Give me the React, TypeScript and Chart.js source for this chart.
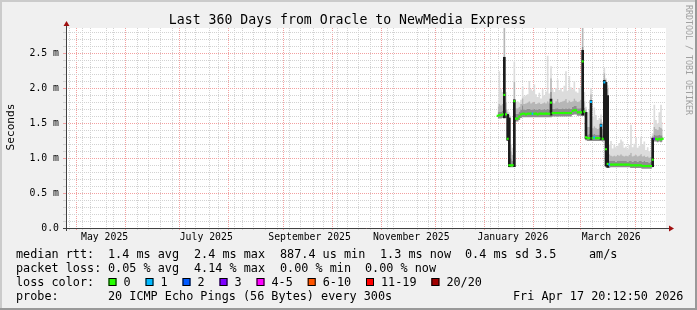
import React, { useEffect, useRef } from 'react';
import { Chart, registerables } from 'chart.js';

Chart.register(...registerables);

// ---------- data ----------
const TITLE = 'Last 360 Days from Oracle to NewMedia Express';
const Y_TITLE = 'Seconds';
const WATERMARK = 'RRDTOOL / TOBI OETIKER';
const START = Date.UTC(2025, 3, 22, 20, 12, 50); // left edge of the graph
const SPAN_DAYS = 360;
const Y_MAX = 2.87; // ms
const FIRST_DAY = 259; // first day (after START) that holds data; one value per day

const MEDIAN = [
  1.61, 1.62, 1.62, 1.63, 1.91, 1.63, 1.28, 0.90, 0.90, 0.90,
  1.82, 1.57, 1.57, 1.60, 1.63, 1.64, 1.64, 1.63, 1.64, 1.64,
  1.64, 1.64, 1.64, 1.64, 1.63, 1.64, 1.64, 1.64, 1.64, 1.64,
  1.64, 1.64, 1.80, 1.65, 1.65, 1.65, 1.65, 1.65, 1.65, 1.65,
  1.65, 1.65, 1.65, 1.65, 1.65, 1.68, 1.69, 1.69, 1.66, 1.66,
  1.66, 2.39, 1.67, 1.30, 1.29, 1.29, 1.81, 1.29, 1.30, 1.29,
  1.29, 1.29, 1.47, 1.28, 2.09, 1.13, 0.92, 0.91, 0.91, 0.91,
  0.91, 0.91, 0.91, 0.91, 0.91, 0.91, 0.91, 0.91, 0.91, 0.91,
  0.90, 0.90, 0.90, 0.90, 0.90, 0.90, 0.90, 0.89, 0.89, 0.89,
  0.89, 0.89, 0.89, 0.98, 1.28, 1.28, 1.27, 1.28, 1.27, 1.28,
];
// loss category index per day (0 = no loss, 1 = one lost ping, 3 = three lost)
const LOSS = [
  0, 0, 0, 0, 0, 0, 0, 0, 0, 0,
  0, 0, 0, 0, 0, 0, 0, 0, 0, 0,
  0, 1, 0, 0, 0, 0, 0, 0, 0, 0,
  0, 0, 0, 0, 0, 0, 0, 0, 0, 0,
  0, 0, 0, 0, 0, 0, 0, 0, 0, 0,
  0, 0, 0, 0, 0, 0, 1, 0, 1, 0,
  0, 0, 1, 0, 1, 0, 0, 1, 0, 0,
  0, 0, 0, 0, 0, 0, 0, 0, 0, 0,
  0, 0, 0, 0, 0, 0, 0, 0, 0, 0,
  0, 0, 0, 0, 3, 0, 0, 0, 0, 0,
];
const SMOKE_LO = [
  1.57, 1.57, 1.57, 1.58, 1.58, 1.58, 1.25, 0.87, 0.87, 0.87,
  0.88, 1.53, 1.53, 1.55, 1.58, 1.59, 1.59, 1.59, 1.59, 1.59,
  1.59, 1.59, 1.59, 1.59, 1.59, 1.59, 1.59, 1.59, 1.59, 1.59,
  1.59, 1.59, 1.59, 1.60, 1.60, 1.60, 1.60, 1.60, 1.60, 1.60,
  1.60, 1.60, 1.60, 1.60, 1.60, 1.62, 1.63, 1.63, 1.61, 1.61,
  1.61, 1.61, 1.61, 1.26, 1.25, 1.25, 1.25, 1.25, 1.25, 1.25,
  1.25, 1.25, 1.25, 1.24, 1.25, 0.87, 0.86, 0.86, 0.87, 0.87,
  0.87, 0.87, 0.87, 0.87, 0.87, 0.87, 0.87, 0.87, 0.87, 0.87,
  0.86, 0.86, 0.86, 0.86, 0.86, 0.86, 0.86, 0.85, 0.85, 0.85,
  0.85, 0.85, 0.85, 0.87, 1.24, 1.24, 1.23, 1.24, 1.23, 1.24,
];
const SMOKE_DARK = [
  1.66, 1.67, 1.67, 1.68, 2.20, 1.70, 1.62, 1.58, 1.00, 0.96,
  1.84, 1.64, 1.64, 1.67, 1.70, 1.76, 1.70, 1.70, 1.71, 1.71,
  1.70, 1.70, 1.71, 1.70, 1.70, 1.71, 1.70, 1.70, 1.71, 1.70,
  1.71, 1.70, 1.95, 1.71, 1.71, 1.72, 1.72, 1.71, 1.71, 1.72,
  1.71, 1.72, 1.71, 1.72, 1.71, 1.74, 1.75, 1.75, 1.72, 1.72,
  1.72, 2.60, 1.73, 1.66, 1.34, 1.35, 1.83, 1.34, 1.35, 1.34,
  1.34, 1.34, 1.49, 1.33, 2.12, 2.09, 1.90, 0.97, 0.96, 0.96,
  0.96, 0.95, 0.96, 0.96, 0.97, 0.96, 0.96, 0.96, 0.95, 0.96,
  0.97, 0.95, 0.96, 0.96, 0.95, 0.96, 0.96, 0.95, 0.96, 0.95,
  0.95, 0.94, 0.95, 1.29, 1.34, 1.33, 1.33, 1.34, 1.33, 1.33,
];
const SMOKE_MID = [
  1.74, 1.78, 1.76, 1.78, 2.90, 1.80, 1.66, 1.62, 1.10, 1.05,
  2.10, 1.72, 1.72, 1.74, 1.78, 1.86, 1.78, 1.79, 1.80, 1.82,
  1.79, 1.80, 1.81, 1.78, 1.79, 1.80, 1.78, 1.79, 1.80, 1.79,
  1.82, 1.79, 2.15, 1.80, 1.79, 1.82, 1.85, 1.80, 1.81, 1.82,
  1.83, 1.85, 1.80, 1.83, 1.81, 1.82, 1.86, 1.83, 1.81, 1.82,
  1.84, 2.90, 1.82, 1.70, 1.45, 1.45, 1.92, 1.43, 1.46, 1.44,
  1.42, 1.44, 1.56, 1.42, 2.22, 2.12, 2.00, 1.06, 1.04, 1.03,
  1.04, 1.03, 1.05, 1.04, 1.06, 1.04, 1.03, 1.04, 1.03, 1.05,
  1.08, 1.03, 1.04, 1.05, 1.03, 1.04, 1.06, 1.03, 1.04, 1.02,
  1.03, 1.01, 1.02, 1.32, 1.45, 1.42, 1.41, 1.45, 1.44, 1.42,
];
const SMOKE_HI = [
  1.84, 2.25, 1.99, 1.95, 2.90, 1.95, 1.70, 1.66, 1.20, 1.15,
  2.39, 1.80, 1.82, 1.80, 1.84, 2.03, 1.89, 1.90, 1.92, 2.11,
  1.99, 1.97, 2.06, 1.92, 1.88, 1.94, 1.86, 1.99, 1.90, 1.96,
  2.47, 1.93, 2.32, 1.99, 1.95, 2.01, 2.13, 1.98, 2.01, 1.96,
  2.04, 2.25, 1.97, 2.18, 2.02, 1.99, 2.11, 1.96, 1.94, 2.01,
  2.03, 2.90, 1.95, 1.74, 1.66, 1.70, 2.01, 1.60, 1.73, 1.62,
  1.55, 1.58, 1.63, 1.52, 2.30, 2.15, 2.05, 1.20, 1.25, 1.14,
  1.20, 1.16, 1.18, 1.22, 1.27, 1.24, 1.15, 1.17, 1.13, 1.19,
  1.48, 1.16, 1.21, 1.30, 1.15, 1.18, 1.31, 1.20, 1.24, 1.12,
  1.16, 1.10, 1.09, 1.36, 1.77, 1.55, 1.50, 1.66, 1.77, 1.52,
];
// dense smoke where the rtt jumped inside one step
const JUMP_DAYS = [263, 265, 266, 269, 291, 310, 312, 315, 321, 323, 324, 325, 352];
const JUMP_LO = [1.58, 1.26, 0.88, 0.88, 1.62, 1.62, 1.28, 1.27, 1.27, 1.27, 0.89, 0.87, 0.88];
const JUMP_HI = [2.45, 1.63, 1.58, 1.84, 1.85, 2.55, 1.66, 1.83, 1.49, 2.12, 2.09, 1.90, 1.29];

const X_LABEL_MONTHS = [[2025, 4], [2025, 6], [2025, 8], [2025, 10], [2026, 0], [2026, 2]];
const X_LABELS = ['May 2025', 'July 2025', 'September 2025', 'November 2025', 'January 2026', 'March 2026'];

const RTT_STATS = ['1.4 ms avg', '2.4 ms max', '887.4 us min', '1.3 ms now', '0.4 ms sd', '3.5', 'am/s'];
const LOSS_STATS = ['0.05 % avg', '4.14 % max', '0.00 % min', '0.00 % now'];
const LOSS_LABELS = ['0', '1', '2', '3', '4-5', '6-10', '11-19', '20/20'];
const LOSS_COLORS = ['#26ff00', '#00b8ff', '#0059ff', '#7e00ff', '#ff00ff', '#ff5500', '#ff0000', '#a10000'];
const PROBE = '20 ICMP Echo Pings (56 Bytes) every 300s';
const STAMP = 'Fri Apr 17 20:12:50 2026';

// ---------- styling ----------
const W = 697;
const H = 310;
const MONO = '"DejaVu Sans Mono", monospace';
const GRID_MINOR = '#d2d2d2';
const GRID_MAJOR = '#f2a0a0';
const DAY = 86400000;

const dayOf = (y: number, m: number, d: number) => (Date.UTC(y, m, d) - START) / DAY;

// x grid: Sundays (minor), month starts (major), mid-month label ticks
const MONTH_STARTS: number[] = [];
for (let k = 0; k < 13; k++) {
  const v = dayOf(2025, 4 + k, 1);
  if (v <= SPAN_DAYS) MONTH_STARTS.push(v);
}
const WEEKS: number[] = [];
for (let v = dayOf(2025, 3, 27); v <= SPAN_DAYS; v += 7) {
  if (!MONTH_STARTS.some((m) => Math.abs(m - v) < 0.01)) WEEKS.push(v);
}
const LABEL_POS = X_LABEL_MONTHS.map(([y, m]) => dayOf(y, m, 1) + 15);
const X_KIND = new Map<number, string>();
WEEKS.forEach((v) => X_KIND.set(v, 'minor'));
MONTH_STARTS.forEach((v) => X_KIND.set(v, 'major'));
const X_LABEL_MAP = new Map<number, string>();
LABEL_POS.forEach((v, i) => {
  X_KIND.set(v, 'label');
  X_LABEL_MAP.set(v, X_LABELS[i]);
});
const X_TICKS = Array.from(X_KIND.keys()).sort((a, b) => a - b);

const Y_TICKS: number[] = [];
for (let i = 0; i <= 28; i++) Y_TICKS.push(i / 10);

const xGridColor = (c: any) => {
  const k = c.tick ? X_KIND.get(c.tick.value) : undefined;
  if (k === 'major') return GRID_MAJOR;
  if (k === 'minor') return GRID_MINOR;
  return 'rgba(0,0,0,0)';
};
const yGridColor = (c: any) => {
  if (!c.tick) return GRID_MINOR;
  const i = Math.round(c.tick.value * 10);
  return i % 5 === 0 ? GRID_MAJOR : GRID_MINOR;
};

const pts = (arr: number[]) => arr.map((v, i) => ({ x: FIRST_DAY + i, y: v }));

const decor = {
  id: 'decor',
  beforeDraw(chart: any) {
    const { ctx, chartArea: a } = chart;
    ctx.save();
    ctx.fillStyle = '#f0f0f0';
    ctx.fillRect(0, 0, W, H);
    ctx.fillStyle = '#cbcbcb';
    ctx.fillRect(0, 0, W, 2);
    ctx.fillRect(0, 0, 2, H);
    ctx.fillStyle = '#999999';
    ctx.fillRect(0, H - 2, W, 2);
    ctx.fillRect(W - 2, 0, 2, H);
    ctx.fillStyle = '#ffffff';
    ctx.fillRect(a.left, a.top, a.right - a.left, a.bottom - a.top);
    ctx.restore();
  },
  afterDraw(chart: any) {
    const { ctx, chartArea: a } = chart;
    ctx.save();
    // axes
    ctx.strokeStyle = '#404040';
    ctx.lineWidth = 1;
    ctx.beginPath();
    ctx.moveTo(a.left + 0.5, a.bottom + 3);
    ctx.lineTo(a.left + 0.5, a.top - 3);
    ctx.moveTo(a.left - 3, a.bottom + 0.5);
    ctx.lineTo(a.right + 4, a.bottom + 0.5);
    ctx.stroke();
    ctx.fillStyle = '#a01010';
    ctx.beginPath();
    ctx.moveTo(a.left + 0.5, a.top - 7);
    ctx.lineTo(a.left + 3.5, a.top - 2);
    ctx.lineTo(a.left - 2.5, a.top - 2);
    ctx.closePath();
    ctx.fill();
    ctx.beginPath();
    ctx.moveTo(a.right + 8, a.bottom + 0.5);
    ctx.lineTo(a.right + 3, a.bottom - 2.5);
    ctx.lineTo(a.right + 3, a.bottom + 3.5);
    ctx.closePath();
    ctx.fill();

    // title
    ctx.fillStyle = '#000';
    ctx.textBaseline = 'alphabetic';
    ctx.textAlign = 'center';
    ctx.font = `13.2px ${MONO}`;
    ctx.fillText(TITLE, 347.5, 24);

    // y title
    ctx.save();
    ctx.translate(14, 127);
    ctx.rotate(-Math.PI / 2);
    ctx.font = `11.2px ${MONO}`;
    ctx.textAlign = 'center';
    ctx.fillText(Y_TITLE, 0, 0);
    ctx.restore();

    // watermark
    ctx.save();
    ctx.translate(686, 5);
    ctx.rotate(Math.PI / 2);
    ctx.font = `8.3px ${MONO}`;
    ctx.fillStyle = '#a0a0a0';
    ctx.textAlign = 'left';
    ctx.textBaseline = 'alphabetic';
    ctx.fillText(WATERMARK, 0, 0);
    ctx.restore();

    // legend
    ctx.textAlign = 'left';
    ctx.font = `11.8px ${MONO}`;
    ctx.fillStyle = '#000';
    const rows = [258, 272, 286, 300];
    ctx.fillText('median rtt:', 16, rows[0]);
    const rttX = [108, 194, 280, 380, 465, 535, 589];
    RTT_STATS.forEach((s, i) => ctx.fillText(s, rttX[i], rows[0]));
    ctx.fillText('packet loss:', 16, rows[1]);
    const lossX = [108, 194, 280, 365];
    LOSS_STATS.forEach((s, i) => ctx.fillText(s, lossX[i], rows[1]));
    ctx.fillText('loss color:', 16, rows[2]);
    let bx = 108.5;
    LOSS_LABELS.forEach((s, i) => {
      ctx.fillStyle = LOSS_COLORS[i];
      ctx.fillRect(bx, 278, 8, 8);
      ctx.strokeStyle = '#000';
      ctx.strokeRect(bx + 0.5, 278.5, 7, 7);
      ctx.fillStyle = '#000';
      ctx.fillText(s, bx + 15, rows[2]);
      bx += 37 + (s.length - 1) * 7.1;
    });
    ctx.fillText('probe:', 16, rows[3]);
    ctx.fillText(PROBE, 108, rows[3]);
    ctx.fillText(STAMP, 513, rows[3]);
    ctx.restore();
  },
};

export default function App() {
  const ref = useRef<HTMLCanvasElement | null>(null);
  useEffect(() => {
    if (!ref.current) return;
    const smokeLine = {
      type: 'line' as const,
      pointRadius: 0,
      borderWidth: 0,
      borderColor: 'rgba(0,0,0,0)',
      stepped: 'middle' as const,
    };
    const chart = new Chart(ref.current, {
      type: 'line',
      data: {
        datasets: [
          {
            type: 'line',
            label: 'median rtt',
            data: pts(MEDIAN),
            showLine: false,
            pointStyle: 'line',
            pointRadius: 1,
            pointHoverRadius: 1,
            pointBorderWidth: 2.2,
            pointBorderColor: LOSS.map((l) => LOSS_COLORS[l]),
            pointBackgroundColor: LOSS.map((l) => LOSS_COLORS[l]),
            order: 0,
          } as any,
          {
            type: 'bar',
            label: 'jumps',
            data: JUMP_DAYS.map((d, i) => ({ x: d, y: [JUMP_LO[i], JUMP_HI[i]] })),
            backgroundColor: '#1c1c1c',
            borderWidth: 0,
            barThickness: 2,
            order: 1,
          } as any,
          { ...smokeLine, label: 'lo', data: pts(SMOKE_LO), fill: false, order: 2 } as any,
          { ...smokeLine, label: 'dark', data: pts(SMOKE_DARK), fill: '-1', backgroundColor: '#8e8e8e', order: 3 } as any,
          { ...smokeLine, label: 'mid', data: pts(SMOKE_MID), fill: '-1', backgroundColor: '#b6b6b6', order: 4 } as any,
          { ...smokeLine, label: 'hi', data: pts(SMOKE_HI), fill: '-1', backgroundColor: '#dcdcdc', order: 5 } as any,
        ],
      },
      options: {
        responsive: false,
        animation: false,
        devicePixelRatio: 1,
        events: [],
        layout: { padding: { left: 0, top: 28, right: 31, bottom: 0 } },
        plugins: { legend: { display: false }, tooltip: { enabled: false }, title: { display: false } },
        scales: {
          x: {
            type: 'linear',
            min: 0,
            max: SPAN_DAYS,
            offset: false,
            afterBuildTicks: (s: any) => {
              s.ticks = X_TICKS.map((v) => ({ value: v }));
            },
            afterFit: (s: any) => {
              s.height = 82;
            },
            grid: { color: xGridColor, tickColor: xGridColor, tickLength: 2, lineWidth: 1, drawOnChartArea: true },
            border: { display: false, dash: [1, 1] },
            ticks: {
              autoSkip: false,
              maxRotation: 0,
              minRotation: 0,
              padding: 2,
              color: '#000',
              font: { family: MONO, size: 9.8 },
              callback: (v: any) => X_LABEL_MAP.get(v) ?? '',
            },
          },
          y: {
            type: 'linear',
            min: 0,
            max: Y_MAX,
            afterBuildTicks: (s: any) => {
              s.ticks = Y_TICKS.map((v) => ({ value: v }));
            },
            afterFit: (s: any) => {
              s.width = 66;
            },
            grid: { color: yGridColor, tickColor: yGridColor, tickLength: 3, lineWidth: 1 },
            border: { display: false, dash: [1, 1] },
            ticks: {
              autoSkip: false,
              padding: 4,
              color: '#000',
              font: { family: MONO, size: 9.8 },
              callback: (v: any) => {
                const i = Math.round(Number(v) * 10);
                if (i === 0) return '0.0';
                return i % 5 === 0 ? `${(i / 10).toFixed(1)} m` : '';
              },
            },
          },
        },
      } as any,
      plugins: [decor],
    });
    return () => chart.destroy();
  }, []);
  return (
    <div style={{ position: 'fixed', left: 0, top: 0, width: W, height: H }}>
      <canvas ref={ref} width={W} height={H} style={{ display: 'block' }} />
    </div>
  );
}
